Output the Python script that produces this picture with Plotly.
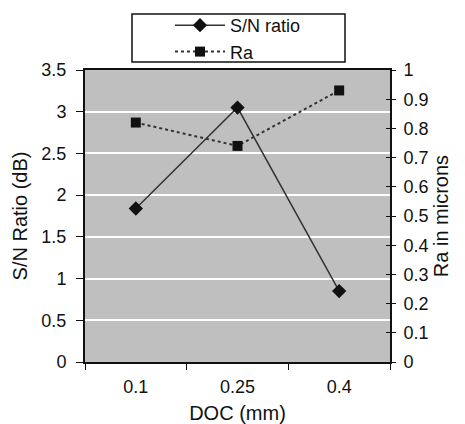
import plotly.graph_objects as go

doc = ["0.1", "0.25", "0.4"]
sn_ratio = [1.84, 3.05, 0.85]
ra = [0.82, 0.74, 0.93]
left_ticks = [0, 0.5, 1, 1.5, 2, 2.5, 3, 3.5]
right_ticks = [0, 0.1, 0.2, 0.3, 0.4, 0.5, 0.6, 0.7, 0.8, 0.9, 1]

FONT = "Liberation Sans, Arial, sans-serif"
# page has an 8px body margin; plot area on page: x 85..390, y 70..362
OFF = 8
W, H = 465 - OFF, 424 - OFF
PX0, PX1, PY0, PY1 = 85, 390, 70, 362
L, T = PX0 - OFF, PY0 - OFF
R = W - (PX1 - OFF)
B = H - (PY1 - OFF)


def px(x):
    return (x - PX0) / (PX1 - PX0)


def py(y):
    return (PY1 - y) / (PY1 - PY0)


fig = go.Figure()
fig.add_trace(go.Scatter(
    x=doc, y=sn_ratio, name="S/N ratio", mode="lines+markers",
    line=dict(color="#333333", width=1.5),
    marker=dict(symbol="diamond", size=11, color="#111111"),
    yaxis="y",
))
fig.add_trace(go.Scatter(
    x=doc, y=ra, name="Ra", mode="lines+markers",
    line=dict(color="#333333", width=2, dash="3px,3px"),
    marker=dict(symbol="square", size=10, color="#111111"),
    yaxis="y2",
))
fig.add_trace(go.Scatter(
    x=doc, y=ra, mode="lines", line=dict(width=0), hoverinfo="skip",
    showlegend=False, opacity=0, yaxis="y3",
))

fig.update_layout(
    width=W, height=H,
    margin=dict(l=L, r=R, t=T, b=B, autoexpand=False),
    paper_bgcolor="white",
    plot_bgcolor="#bfbfbf",
    font=dict(family=FONT, size=18, color="#111111"),
    showlegend=True,
    legend=dict(
        x=px(170), y=py(7), xanchor="left", yanchor="top",
        bgcolor="rgba(0,0,0,0)", borderwidth=0,
        font=dict(family=FONT, size=18, color="#111111"),
        tracegroupgap=0, itemwidth=50,
    ),
    xaxis=dict(
        type="category", range=[-0.5, 2.5], tickson="boundaries",
        ticks="outside", ticklen=6, ticklabelstandoff=7,
        tickcolor="#111111", showline=True, linecolor="#111111", linewidth=2,
        mirror=True, showgrid=False, automargin=False,
        title=dict(text="DOC (mm)", font=dict(size=20), standoff=10),
        tickfont=dict(size=18),
    ),
    yaxis=dict(
        range=[0, 3.5], tickvals=left_ticks, ticks="outside", ticklen=7,
        ticklabelstandoff=6,
        tickcolor="#111111", showline=True, linecolor="#111111", linewidth=2,
        showgrid=True, gridcolor="white", gridwidth=2, zeroline=False,
        automargin=False,
        title=dict(text="S/N Ratio (dB)", font=dict(size=20), standoff=8),
        tickfont=dict(size=18),
    ),
    yaxis2=dict(
        range=[0, 1], tickvals=right_ticks, overlaying="y", side="right",
        ticks="outside", ticklen=4, ticklabelstandoff=4, tickcolor="#111111",
        showline=True, linecolor="#111111", linewidth=2,
        showgrid=False, zeroline=False, automargin=False,
        title=dict(text="Ra in microns", font=dict(size=20), standoff=6),
        tickfont=dict(size=18),
    ),
    yaxis3=dict(
        range=[0, 1], tickvals=right_ticks, overlaying="y", side="right",
        ticks="inside", ticklen=4, tickcolor="#111111", showticklabels=False,
        showline=False, showgrid=False, zeroline=False, automargin=False,
    ),
    shapes=[dict(
        type="rect", xref="paper", yref="paper",
        x0=px(132), x1=px(345), y0=py(62), y1=py(14),
        line=dict(color="#111111", width=1.5), fillcolor="white", layer="below",
    )],
)

fig.write_html("out.html")
